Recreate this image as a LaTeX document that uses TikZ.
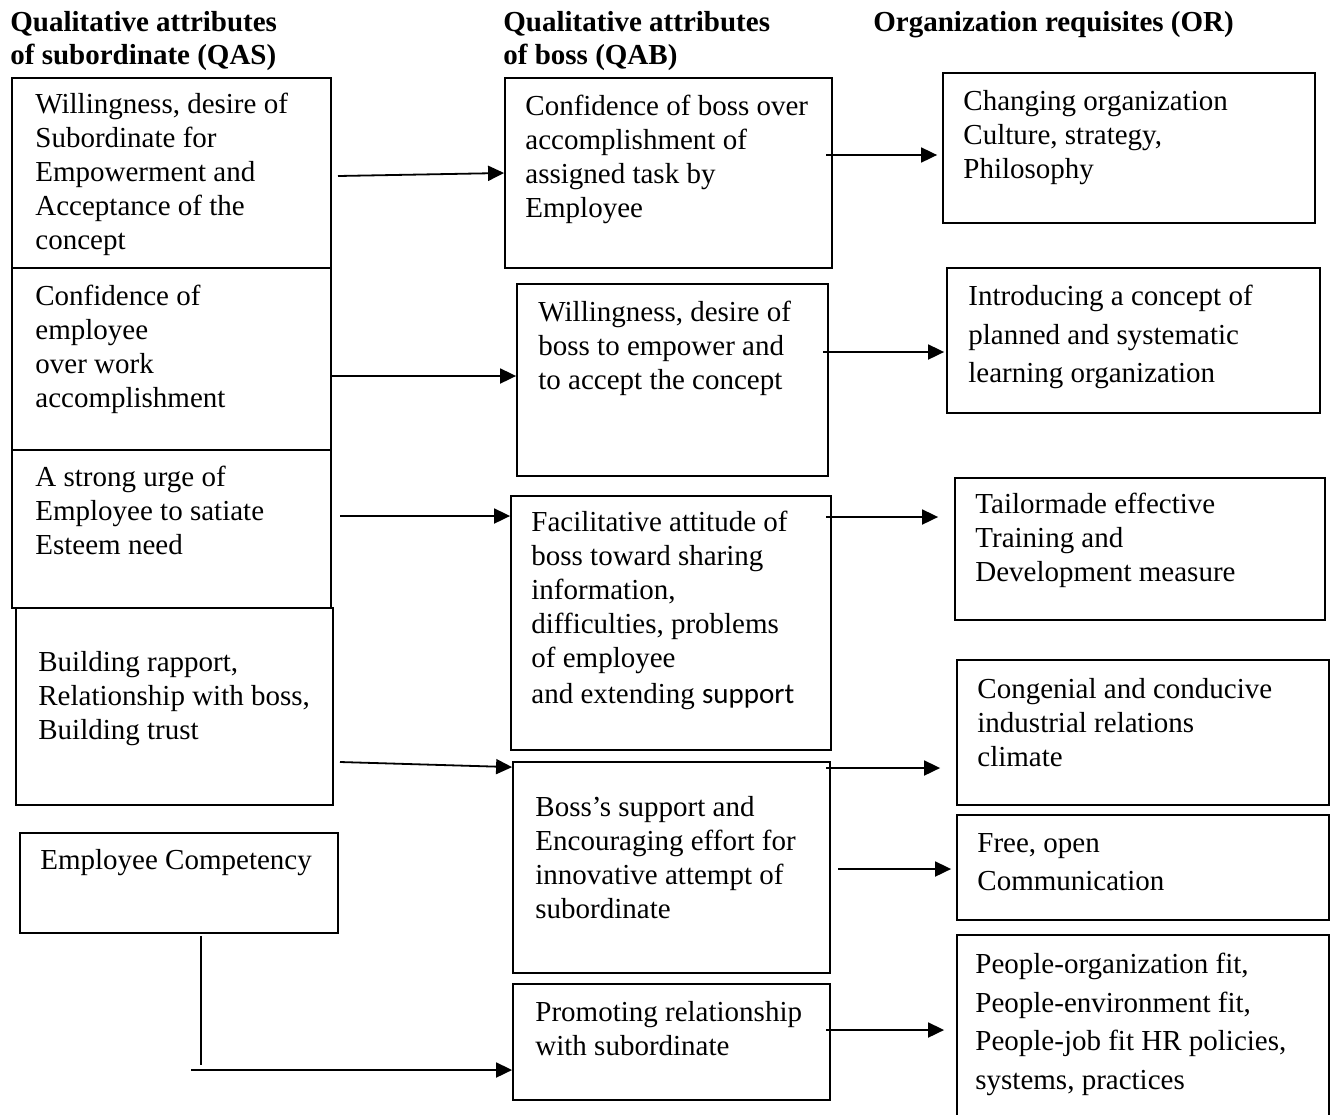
\documentclass[tikz,border=0pt]{standalone}
\usepackage{fontspec}
\setmainfont{Liberation Serif}
\newfontfamily\calibrifont{Carlito}
\usetikzlibrary{arrows.meta,fit}

\tikzset{
	box/.style={draw, line width=0.9pt, inner sep=0pt},
	txt/.style={anchor=north west, inner sep=0pt, align=left, font=\fontsize{14.5}{17}\selectfont},
	txtwide/.style={txt, font=\fontsize{14.5}{19.2}\selectfont},
	head/.style={anchor=north west, inner sep=0pt, align=left, font=\bfseries\fontsize{14.5}{16.5}\selectfont},
	arr/.style={-{Triangle[length=8pt,width=7.5pt]}, line width=0.9pt},
}

\begin{document}
\begin{tikzpicture}[x=0.5pt, y=-0.5pt]
	\useasboundingbox (0,0) rectangle (1331,1114);
	\clip (0,0) rectangle (1331,1114);
	% headings
	\node[head] (hqas) at (10,11) {Qualitative attributes\\of subordinate (QAS)};
	\node[head] (hqab) at (503,11) {Qualitative attributes\\of boss (QAB)};
	\node[head] (hor) at (873,11) {Organization requisites (OR)};
	% subordinate column
	\node[box, fit={(12,78) (331,268)}] (qas1) {};
	\node[box, fit={(12,268) (331,450)}] (qas2) {};
	\node[box, fit={(12,450) (331,608)}] (qas3) {};
	\node[box, fit={(16,608) (333,805)}] (qas4) {};
	\node[box, fit={(20,833) (338,933)}] (qas5) {};
	\node[txt] (qas1t) at (35,93) {Willingness, desire of\\Subordinate for\\Empowerment and\\Acceptance of the\\concept};
	\node[txt] (qas2t) at (35,285) {Confidence of\\employee\\over work\\accomplishment};
	\node[txt] (qas3t) at (35,466) {A strong urge of\\Employee to satiate\\Esteem need};
	\node[txt] (qas4t) at (38,651) {Building rapport,\\Relationship with boss,\\Building trust};
	\node[txt] (qas5t) at (40,849) {Employee Competency};
	% boss column
	\node[box, fit={(505,78) (832,268)}] (qab1) {};
	\node[box, fit={(517,284) (828,476)}] (qab2) {};
	\node[box, fit={(511,496) (831,750)}] (qab3) {};
	\node[box, fit={(513,762) (830,973)}] (qab4) {};
	\node[box, fit={(513,984) (830,1100)}] (qab5) {};
	\node[txt] (qab1t) at (525,95) {Confidence of boss over\\accomplishment of\\assigned task by\\Employee};
	\node[txt] (qab2t) at (538,301) {Willingness, desire of\\boss to empower and\\to accept the concept};
	\node[txt] (qab3t) at (531,511) {Facilitative attitude of\\boss toward sharing\\information,\\difficulties, problems\\of employee\\[1pt]and extending {\calibrifont support}};
	\node[txt] (qab4t) at (535,796) {Boss’s support and\\Encouraging effort for\\innovative attempt of\\subordinate};
	\node[txt] (qab5t) at (535,1001) {Promoting relationship\\with subordinate};
	% organization column
	\node[box, fit={(943,73) (1315,223)}] (or1) {};
	\node[box, fit={(947,268) (1320,413)}] (or2) {};
	\node[box, fit={(955,478) (1325,620)}] (or3) {};
	\node[box, fit={(957,660) (1329,805)}] (or4) {};
	\node[box, fit={(957,815) (1329,920)}] (or5) {};
	\node[box, fit={(957,935) (1329,1125)}] (or6) {};
	\node[txt] (or1t) at (963,90) {Changing organization\\Culture, strategy,\\Philosophy};
	\node[txtwide] (or2t) at (968,285) {Introducing a concept of\\planned and systematic\\learning organization};
	\node[txt] (or3t) at (975,493) {Tailormade effective\\Training and\\Development measure};
	\node[txt] (or4t) at (977,678) {Congenial and conducive\\industrial relations\\climate};
	\node[txtwide] (or5t) at (977,833) {Free, open\\Communication};
	\node[txtwide] (or6t) at (975,953) {People-organization fit,\\People-environment fit,\\People-job fit HR policies,\\systems, practices};
	% arrow starts
	\coordinate (a1) at (338,176);
	\coordinate (a2) at (331,376);
	\coordinate (a3) at (340,516);
	\coordinate (a4) at (340,762);
	\coordinate (a5) at (191,1070);
	\coordinate (v5) at (201,1065);
	\coordinate (b1) at (826,155);
	\coordinate (b2) at (823,352);
	\coordinate (b3) at (826,517);
	\coordinate (b4) at (826,768);
	\coordinate (b5) at (838,869);
	\coordinate (b6) at (826,1030);
	% subordinate to boss
	\draw[arr] (a1) -- (qab1.west);
	\draw[arr] (a2) -- (qab2.west |- a2);
	\draw[arr] (a3) -- (qab3.west |- a3);
	\draw[arr] (a4) -- ([yshift=-3pt]qab4.north west);
	\draw[line width=0.9pt] ([yshift=-1pt]qas5.south -| v5) -- (v5);
	\draw[arr] (a5) -- (qab5.west |- a5);
	% boss to organization
	\draw[arr, shorten >=2.5pt] (b1) -- (or1.west |- b1);
	\draw[arr, shorten >=1pt] (b2) -- (or2.west |- b2);
	\draw[arr, shorten >=8pt] (b3) -- (or3.west |- b3);
	\draw[arr, shorten >=8pt] (b4) -- (or4.west |- b4);
	\draw[arr, shorten >=2.5pt] (b5) -- (or5.west |- b5);
	\draw[arr, shorten >=6pt] (b6) -- (or6.west |- b6);
\end{tikzpicture}
\end{document}
